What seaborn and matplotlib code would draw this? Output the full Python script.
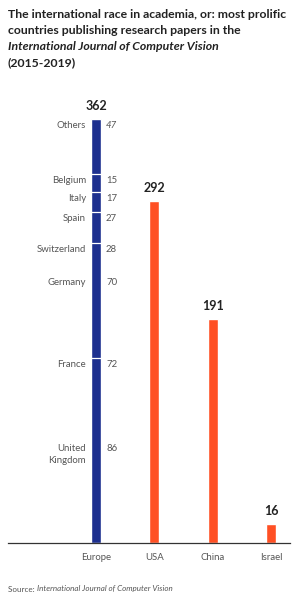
import matplotlib
matplotlib.use("Agg")
import matplotlib.pyplot as plt
import seaborn as sns
import pandas as pd

sns.set_theme(style="white")
FONT = ['Lato', 'DejaVu Sans']
plt.rcParams['font.family'] = FONT

# Data
regions = ["Europe", "USA", "China", "Israel"]
totals = [362, 292, 191, 16]
europe_countries = ["United\nKingdom", "France", "Germany", "Switzerland", "Spain", "Italy", "Belgium", "Others"]
europe_values = [86, 72, 70, 28, 27, 17, 15, 47]
separator_above = [False, True, False, True, True, True, True, False]

BLUE = "#1c2f8f"
ORANGE = "#ff5024"
GREY = "#555555"
DARK = "#222222"

fig = plt.figure(figsize=(2.98, 6.0), dpi=100)
ax = fig.add_axes([8/298, 1 - 543/600, 282/298, (543 - 119)/600])

df = pd.DataFrame({"region": regions, "total": totals})
bw = 0.175
sns.barplot(data=df, x="region", y="total", hue="region", order=regions,
            palette=[BLUE, ORANGE, ORANGE, ORANGE], legend=False,
            width=bw, ax=ax, saturation=1)

# Europe breakdown
cum = 0
tops = []
for v in europe_values:
    cum += v
    tops.append(cum)

lab_fs = 6.9
for name, v, top, sep in zip(europe_countries, europe_values, tops, separator_above):
    if sep and top < totals[0]:
        ax.hlines(top, -bw/2, bw/2, colors="white", linewidth=0.9, zorder=5)
    ax.annotate(name, xy=(0, top), xytext=(-10, -2), textcoords="offset pixels",
                ha="right", va="top", fontsize=lab_fs, color=GREY, linespacing=1.4)
    ax.annotate(str(v), xy=(0, top), xytext=(10, -2), textcoords="offset pixels",
                ha="left", va="top", fontsize=lab_fs, color=GREY,
                style="italic" if name == "Others" else "normal")

# totals
for i, t in enumerate(totals):
    ax.annotate(str(t), xy=(i, t), xytext=(0, 7), textcoords="offset pixels",
                ha="center", va="bottom", fontsize=9, fontweight="bold", color=DARK)

ax.set_xlim(-1.509, 3.326)
ax.set_ylim(0, 362)
ax.set_xlabel("")
ax.set_ylabel("")
ax.set_yticks([])
ax.set_xticks(range(len(regions)))
ax.set_xticklabels(regions, fontsize=lab_fs, color=GREY)
ax.tick_params(axis="x", length=0, pad=7)
for s in ["top", "right", "left"]:
    ax.spines[s].set_visible(False)
ax.spines["bottom"].set_color("#333333")
ax.spines["bottom"].set_linewidth(0.9)

# Title, fitted to the reference width
title_lines = [
    ("The international race in academia, or: most prolific", "normal"),
    ("countries publishing research papers in the", "normal"),
    ("International Journal of Computer Vision", "italic"),
    ("(2015-2019)", "normal"),
]
tfs = 10.0
probe = fig.text(0, 0, title_lines[0][0], fontsize=tfs, fontweight="bold")
fig.canvas.draw()
w = probe.get_window_extent().width
probe.remove()
tfs = tfs * 279.0 / w
for k, (line, st) in enumerate(title_lines):
    fig.text(8/298, 1 - (15 + 16 * k)/600, line, fontsize=tfs, fontweight="bold",
             style=st, color=DARK, va="center", ha="left")

# Source
src_fs = 5.8
t1 = fig.text(8/298, 1 - 589/600, "Source: ", fontsize=src_fs, color=GREY, va="center", ha="left")
fig.canvas.draw()
bb = t1.get_window_extent()
fig.text(bb.x1 / fig.bbox.width, 1 - 589/600, "International Journal of Computer Vision",
         fontsize=src_fs, style="italic", color=GREY, va="center", ha="left")

fig.savefig("out.png", dpi=100)
